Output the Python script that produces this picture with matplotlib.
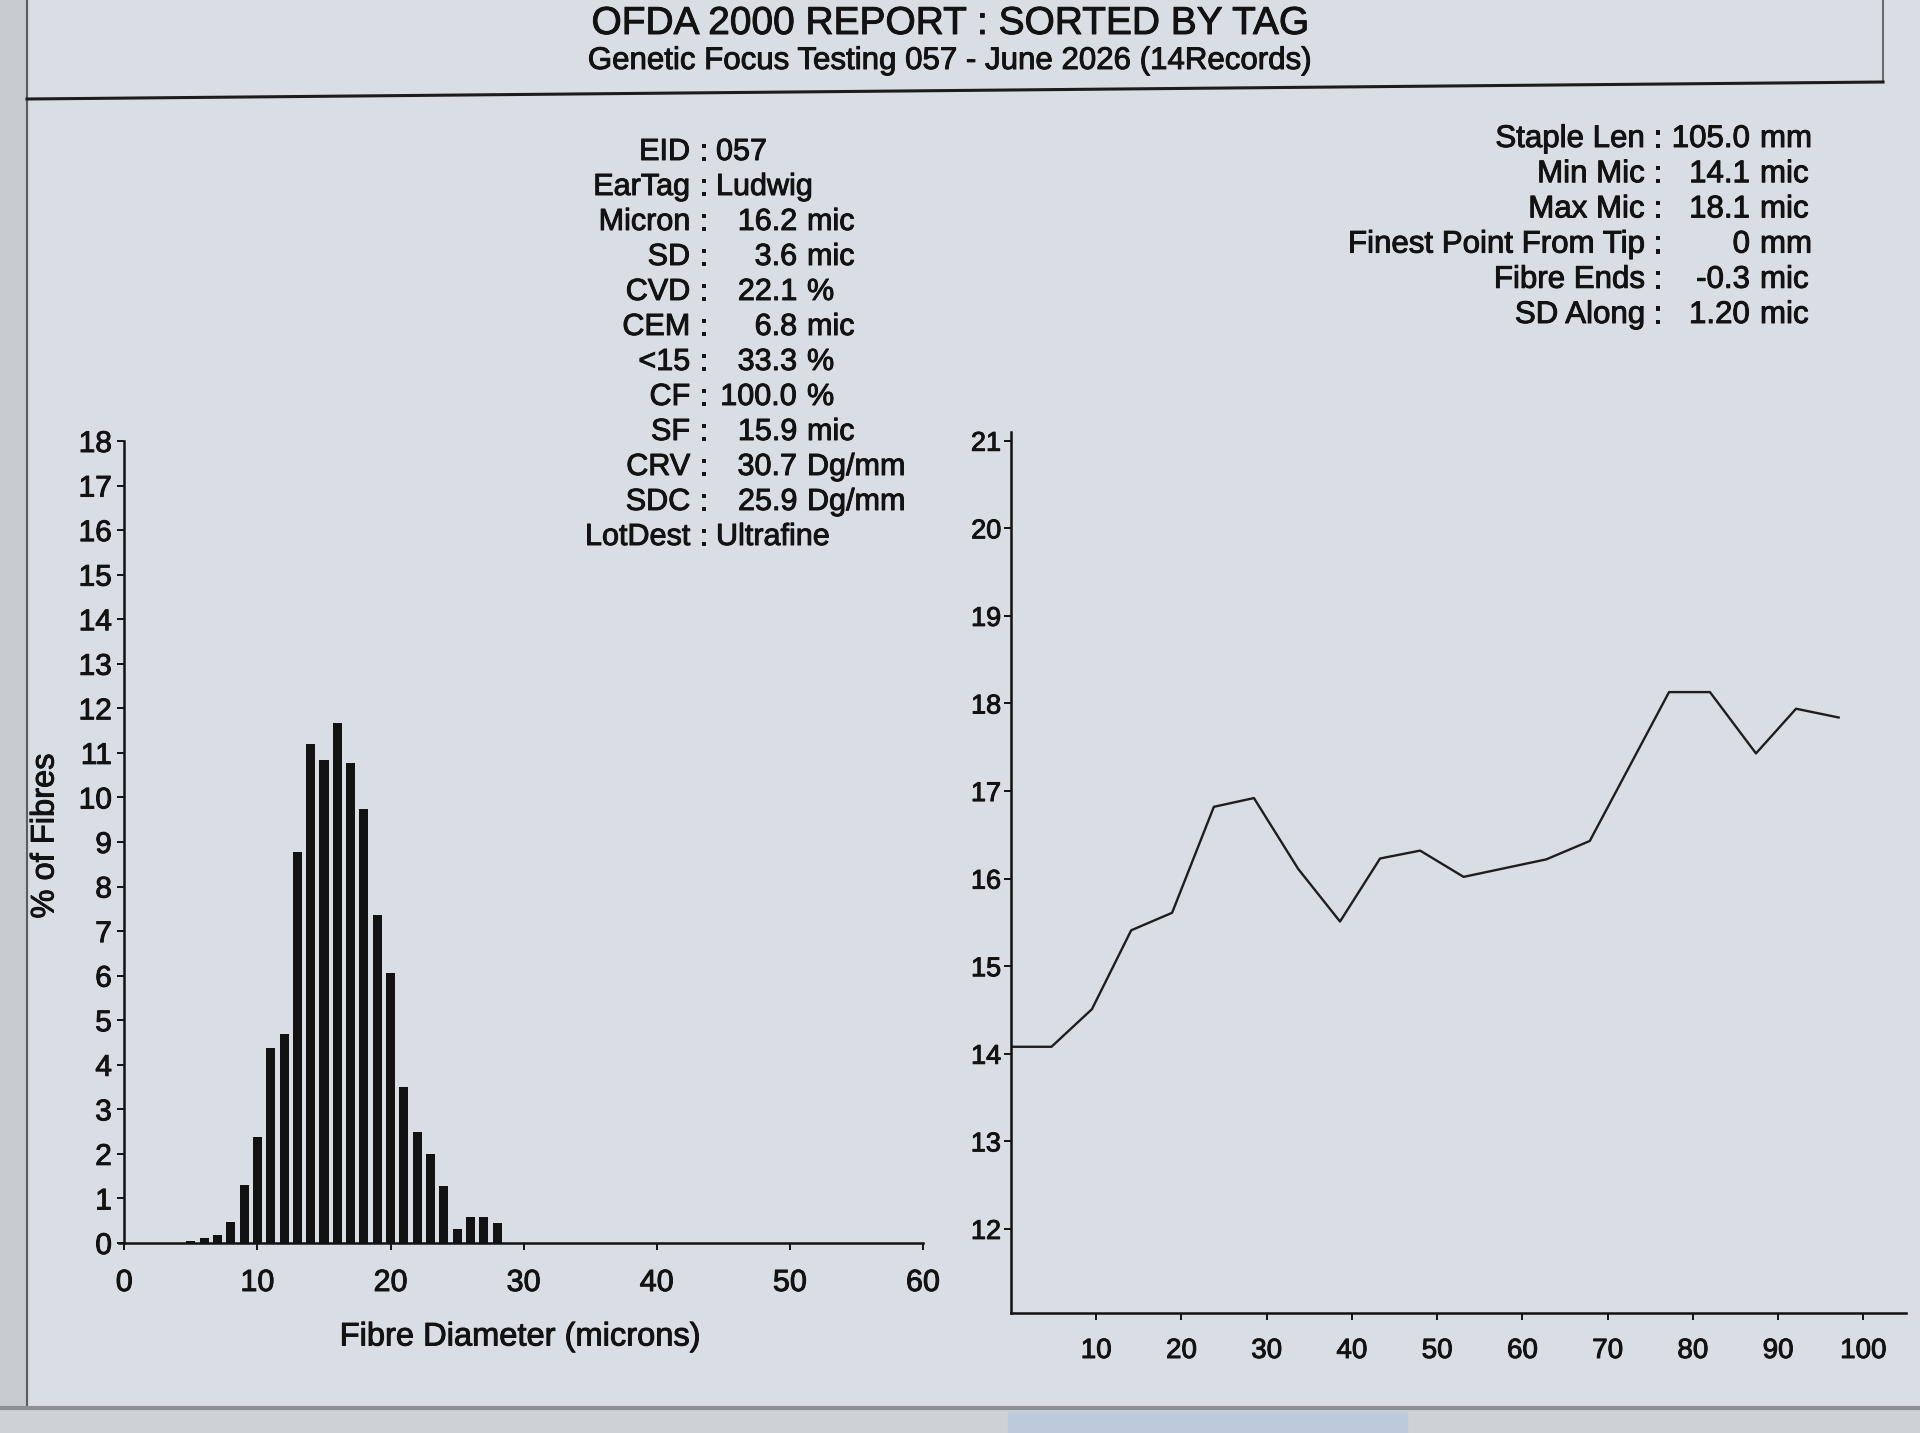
import matplotlib
matplotlib.use("Agg")
import matplotlib.pyplot as plt
import matplotlib.patheffects as pe
from matplotlib.lines import Line2D
from matplotlib.patches import Rectangle

plt.rcParams['font.family'] = ['Liberation Sans', 'DejaVu Sans']

# fibre diameter histogram (% of fibres per micron class)
diam_microns = [5, 6, 7, 8, 9, 10, 11, 12, 13, 14, 15, 16, 17, 18, 19, 20,
                21, 22, 23, 24, 25, 26, 27, 28]
pct_fibres = [0.04, 0.12, 0.17, 0.47, 1.3, 2.38, 4.38, 4.7, 8.78, 11.2, 10.85,
              11.66, 10.77, 9.73, 7.36, 6.06, 3.5, 2.49, 2.0, 1.29, 0.31, 0.59,
              0.59, 0.45]

# micron profile along the staple
profile_pos = [0, 4.75, 9.5, 14.1, 18.9, 23.8, 28.5, 33.7, 38.6, 43.3, 48.0,
               53.1, 62.8, 67.9, 77.2, 82.0, 87.4, 92.1, 97.1]
profile_mic = [14.08, 14.08, 14.51, 15.41, 15.61, 16.82, 16.92, 16.11, 15.51,
               16.23, 16.32, 16.02, 16.22, 16.43, 18.13, 18.13, 17.43, 17.94,
               17.84]

hist_xticks = [0, 10, 20, 30, 40, 50, 60]
hist_yticks = list(range(0, 19))
prof_xticks = [10, 20, 30, 40, 50, 60, 70, 80, 90, 100]
prof_yticks = list(range(12, 22))

title = "OFDA 2000 REPORT : SORTED BY TAG"
subtitle = "Genetic Focus Testing 057 - June 2026 (14Records)"

left_labels = ["EID", "EarTag", "Micron", "SD", "CVD", "CEM", "<15", "CF",
               "SF", "CRV", "SDC", "LotDest"]
left_values = ["057", "Ludwig", "16.2", "3.6", "22.1", "6.8", "33.3", "100.0",
               "15.9", "30.7", "25.9", "Ultrafine"]
left_units = ["", "", "mic", "mic", "%", "mic", "%", "%", "mic", "Dg/mm",
              "Dg/mm", ""]

right_labels = ["Staple Len", "Min Mic", "Max Mic", "Finest Point From Tip",
                "Fibre Ends", "SD Along"]
right_values = ["105.0", "14.1", "18.1", "0", "-0.3", "1.20"]
right_units = ["mm", "mic", "mic", "mm", "mic", "mic"]

W, H = 1920, 1433
BG = '#d9dee4'
INK = '#121212'
# screen photo makes the glyphs look a bit heavier
THICK = [pe.withStroke(linewidth=0.7, foreground=INK)]


def fx(x):
    return x / W


def fy(y):
    return 1 - y / H


def txt(x, y, s, **kw):
    kw.setdefault('color', INK)
    t = fig.text(fx(x), fy(y), s, va='center', **kw)
    t.set_path_effects(THICK)
    return t


fig = plt.figure(figsize=(W / 100, H / 100), dpi=100)
fig.patch.set_facecolor(BG)

# screen frame bits
fig.add_artist(Rectangle((0, 0), fx(27), 1, transform=fig.transFigure,
                         color='#c9ccce', zorder=0))
fig.add_artist(Rectangle((0, 0), 1, fy(1408), transform=fig.transFigure,
                         color='#ced2d5', zorder=0))
fig.add_artist(Rectangle((fx(1008), 0), fx(1407) - fx(1008), fy(1412),
                         transform=fig.transFigure, color='#bccadb', zorder=0))
fig.add_artist(Line2D([fx(27), fx(27)], [fy(0), fy(1408)], color='#5a5d60',
                      lw=1.5, transform=fig.transFigure))
fig.add_artist(Line2D([fx(1883), fx(1883)], [fy(0), fy(82)], color='#6a6d70',
                      lw=1.5, transform=fig.transFigure))
fig.add_artist(Line2D([fx(27), fx(1883)], [fy(99), fy(82)], color='#1c1c1c',
                      lw=2.2, transform=fig.transFigure))
fig.add_artist(Line2D([0, 1], [fy(1408), fy(1408)], color='#8c9094',
                      lw=3, transform=fig.transFigure))

txt(950, 24, title, ha='center', fontsize=28)
txt(950, 61, subtitle, ha='center', fontsize=22.5)

# left info block
for i, (lab, val, unit) in enumerate(zip(left_labels, left_values, left_units)):
    y = 152 + 35 * i
    txt(690, y, lab, ha='right', fontsize=22)
    txt(703, y, ':', ha='center', fontsize=22)
    if unit:
        txt(797, y, val, ha='right', fontsize=22)
        txt(807, y, unit, ha='left', fontsize=22)
    else:
        txt(716, y, val, ha='left', fontsize=22)

# right info block
for i, (lab, val, unit) in enumerate(zip(right_labels, right_values,
                                         right_units)):
    y = 139 + 35.2 * i
    txt(1645, y, lab, ha='right', fontsize=22.5)
    txt(1658, y, ':', ha='center', fontsize=22.5)
    txt(1750, y, val, ha='right', fontsize=22.5)
    txt(1760, y, unit, ha='left', fontsize=22.5)

# histogram
ax1 = fig.add_axes([fx(119), fy(1243), fx(923) - fx(119), fy(441) - fy(1243)])
ax1.set_facecolor('none')
ax1.bar(diam_microns, pct_fibres, width=0.68, color='#121212', zorder=3)
ax1.set_xlim(-0.4, 60)
ax1.set_ylim(0, 18)
ax1.set_xticks(hist_xticks)
ax1.set_yticks(hist_yticks)
for s in ['top', 'right']:
    ax1.spines[s].set_visible(False)
ax1.spines['left'].set_position(('data', 0))
for s in ['left', 'bottom']:
    ax1.spines[s].set_linewidth(1.8)
    ax1.spines[s].set_color(INK)
ax1.tick_params(axis='x', direction='out', length=5, width=1.4, pad=13,
                labelsize=22, colors=INK)
ax1.tick_params(axis='y', direction='out', length=5, width=1.4, pad=4,
                labelsize=21.5, colors=INK)

txt(520, 1337, "Fibre Diameter (microns)", ha='center', fontsize=23.5)
txt(45, 836, "% of Fibres", ha='center', rotation=90, fontsize=23.5)

# profile along staple
ax2 = fig.add_axes([fx(1011), fy(1313), fx(1906) - fx(1011),
                    fy(432) - fy(1313)])
ax2.set_facecolor('none')
ax2.plot(profile_pos, profile_mic, color='#1e1e1e', lw=1.7)
ax2.set_xlim(0, 105)
ax2.set_ylim(11.04, 21.1)
ax2.set_xticks(prof_xticks)
ax2.set_yticks(prof_yticks)
for s in ['top', 'right']:
    ax2.spines[s].set_visible(False)
for s in ['left', 'bottom']:
    ax2.spines[s].set_linewidth(1.8)
    ax2.spines[s].set_color(INK)
ax2.tick_params(axis='x', direction='out', length=5, width=1.4, pad=13,
                labelsize=20, colors=INK)
ax2.tick_params(axis='y', direction='out', length=5, width=1.4, pad=2,
                labelsize=19.5, colors=INK)

for ax in (ax1, ax2):
    for lbl in ax.get_xticklabels() + ax.get_yticklabels():
        lbl.set_path_effects(THICK)

fig.savefig('out.png', dpi=100, facecolor=fig.get_facecolor())
